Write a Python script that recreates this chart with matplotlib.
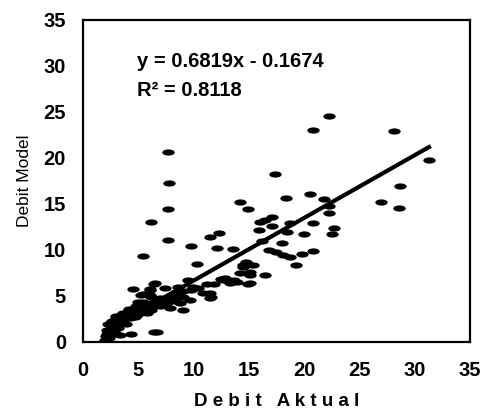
import numpy as np
import matplotlib
matplotlib.use('Agg')
import matplotlib.pyplot as plt
from matplotlib.path import Path
from matplotlib.transforms import Affine2D

plt.rcParams['font.family'] = ['Liberation Sans', 'DejaVu Sans']

# data (Debit Aktual, Debit Model)
aktual = [7.7, 7.8, 17.4, 20.8, 22.3, 28.1, 28.7, 7.7, 6.2, 7.7, 5.45, 9.8,
          10.3, 12.15, 11.5, 12.3, 13.6, 14.2, 14.9, 16.0, 17.1, 16.5, 15.9,
          17.15, 16.2, 18.4, 20.5, 21.8, 22.3, 22.3, 18.7, 20.8, 22.7, 22.5,
          20.0, 18.0, 18.5, 20.8, 19.8, 18.7, 19.3, 18.1, 17.5, 16.8, 27.0,
          28.6, 31.3, 14.8, 15.4, 14.5, 14.2, 15.1, 16.5, 13.7, 14.95, 13.3,
          12.5, 11.9, 11.2, 10.4, 11.5, 11.5, 9.5, 9.8, 9.1, 8.8, 9.7, 8.6,
          7.4, 6.4, 4.55, 6.1, 5.45, 6.2, 5.0, 7.0, 7.6, 8.2, 7.9, 7.0, 6.2,
          5.45, 4.55, 3.95, 3.5, 4.7, 5.8, 3.05, 3.95, 2.6, 2.3, 2.1, 2.9,
          2.0, 4.4, 6.4, 6.7, 3.2, 3.35, 2.4, 2.7, 3.6, 4.2, 4.9, 5.3, 2.2,
          2.5, 3.0, 2.8, 3.3, 6.6, 7.3, 8.4, 10.0, 12.9,
          2.2, 2.5, 2.8, 3.1, 3.4, 3.7, 4.0, 4.3, 4.6, 4.9, 5.2, 5.5, 5.8,
          6.1, 6.4, 6.8, 7.2, 7.5, 8.0, 8.4, 8.7, 2.3, 2.6, 3.0, 3.6, 4.2,
          4.8, 5.4, 6.5, 6.05, 5.3, 6.05, 9.1, 9.1, 11.6, 10.9, 12.7, 13.9,
          15.1, 14.5, 15.1]
model = [20.6, 17.25, 18.3, 23.0, 24.6, 22.9, 16.9, 14.4, 13.0, 11.1, 9.35,
         10.4, 8.5, 10.25, 11.45, 11.8, 10.1, 15.25, 14.4, 13.0, 13.55, 13.3,
         12.2, 12.6, 11.0, 15.6, 16.1, 15.5, 14.8, 14.0, 12.9, 12.9, 12.4,
         11.7, 11.7, 10.8, 12.0, 9.9, 9.6, 9.2, 8.4, 9.5, 9.8, 10.0, 15.25,
         14.6, 19.8, 8.7, 8.4, 8.1, 7.5, 7.3, 7.3, 6.7, 6.3, 6.4, 6.8, 6.3,
         6.3, 5.9, 5.3, 4.75, 6.7, 5.65, 4.9, 4.2, 4.6, 6.0, 5.9, 6.3, 5.8,
         5.65, 5.2, 4.9, 4.3, 4.75, 4.2, 4.6, 3.7, 3.9, 3.5, 3.85, 3.5, 3.2,
         2.75, 2.75, 3.1, 2.2, 2.0, 1.65, 1.1, 0.6, 0.95, 0.2, 0.87, 1.1, 1.1,
         1.5, 0.8, 0.4, 1.9, 2.4, 2.9, 3.4, 3.6, 1.3, 0.8, 2.6, 1.4, 2.0,
         4.1, 4.4, 5.2, 6.0, 7.0,
         0.9, 1.3, 1.8, 1.6, 2.4, 2.1, 2.9, 2.6, 3.2, 2.9, 3.6, 3.3, 4.0,
         3.7, 4.3, 4.1, 4.6, 4.4, 4.9, 4.4, 5.2, 1.9, 2.3, 2.8, 3.1, 3.6,
         3.9, 4.3, 6.45, 5.8, 5.1, 5.1, 3.5, 5.5, 4.9, 5.3, 6.75, 6.55,
         6.4, 8.4, 7.6]

slope, intercept = 0.6819, -0.1674
r2 = 0.8118
ticks = [0, 5, 10, 15, 20, 25, 30, 35]

fig = plt.figure(figsize=(4.84, 4.13), dpi=100)
ax = fig.add_axes([0.171, 0.172, 0.800, 0.780])

# flat ellipse marker like the scanned dashes
dash = Path.unit_circle().transformed(Affine2D().scale(1.0, 0.5))
ax.scatter(aktual, model, marker=dash, s=80, color='black', linewidths=0, zorder=3)

xs = np.array([min(aktual), max(aktual)])
ax.plot(xs, slope * xs + intercept, color='black', lw=3, zorder=4)

ax.text(4.9, 30.5, 'y = %.4fx - %.4f' % (slope, -intercept), fontsize=14.5,
        fontweight='bold', va='center', ha='left')
ax.text(4.9, 27.3, 'R² = %.4f' % r2, fontsize=14.5, fontweight='bold',
        va='center', ha='left')

ax.set_xlim(0, 35)
ax.set_ylim(0, 35)
ax.set_xticks(ticks)
ax.set_yticks(ticks)
ax.tick_params(length=0, labelsize=14.5)
ax.tick_params(axis='y', pad=12)
ax.tick_params(axis='x', pad=14)
for lab in ax.get_xticklabels() + ax.get_yticklabels():
    lab.set_fontweight('bold')
for sp in ax.spines.values():
    sp.set_linewidth(1.6)

ax.set_xlabel('D e b i t   A k t u a l', fontsize=13.5, fontweight='bold', labelpad=9)
ax.set_ylabel('Debit Model', fontsize=12.5, labelpad=8)

fig.savefig('out.png', dpi=100)
